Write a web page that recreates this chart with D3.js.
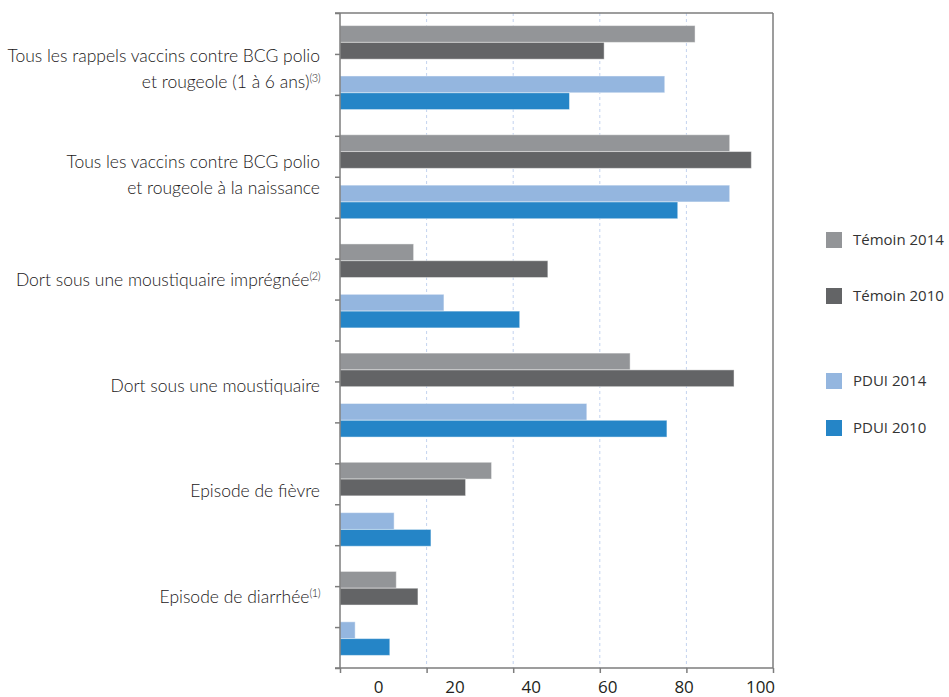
<!DOCTYPE html>
<html>
<head>
<meta charset="utf-8">
<script src="https://cdn.jsdelivr.net/npm/d3@7"></script>
<style>
  body { margin: 0; background: #fff; }
  svg { display: block; }
  .cat { font-family: Lato, "Open Sans", sans-serif; font-weight: 300; font-size: 17.5px; fill: #1a1718; }
  .num { font-family: "Open Sans", "Noto Sans", sans-serif; font-size: 17px; fill: #231f20; }
  .leg { font-family: "Open Sans", "Noto Sans", sans-serif; font-size: 15px; fill: #333; }
</style>
</head>
<body>
<div id="chart"></div>
<script>
var categoryLines = [
  ["Tous les rappels vaccins contre BCG polio", "et rougeole (1 à 6 ans)"],
  ["Tous les vaccins contre BCG polio", "et rougeole à la naissance"],
  ["Dort sous une moustiquaire imprégnée"],
  ["Dort sous une moustiquaire"],
  ["Episode de fièvre"],
  ["Episode de diarrhée"]
];
var categoryNotes = ["(3)", "", "(2)", "", "", "(1)"];

var seriesNames = ["Témoin 2014", "Témoin 2010", "PDUI 2014", "PDUI 2010"];
var temoin2014 = [82, 90, 17, 67, 35, 13];
var temoin2010 = [61, 95, 48, 91, 29, 18];
var pdui2014 = [75, 90, 24, 57, 12.5, 3.5];
var pdui2010 = [53, 78, 41.5, 75.5, 21, 11.5];
var xTicks = [0, 20, 40, 60, 80, 100];

var seriesValues = [temoin2014, temoin2010, pdui2014, pdui2010];
var colors = d3.scaleOrdinal()
  .domain(seriesNames)
  .range(["#939598", "#636466", "#94b6df", "#2585c7"]);

var _width = 949, _height = 697,
  _left = 340, _right = 773, _top = 13, _bottom = 668;

var svg = d3.select("#chart").append("svg")
  .attr("width", _width)
  .attr("height", _height);

var x = d3.scaleLinear().domain([0, 100]).range([_left, _right]);
// the printed tick numbers sit on their own, slightly shifted scale
var xLabel = d3.scaleLinear().domain([0, 100]).range([378, 760]);

var ids = d3.range(categoryLines.length);
var y = d3.scaleBand().domain(ids).range([_top, _bottom]);
var inner = d3.scaleBand()
  .domain([seriesNames[0], seriesNames[1], "gap", seriesNames[2], seriesNames[3]])
  .range([0, y.bandwidth()])
  .paddingOuter(0.75);
var yLabel = d3.scalePoint().domain(ids).range([75, 603]);
var yTick = d3.scaleLinear().domain([0, 16]).range([_top, _bottom]);

// grid lines
svg.append("g").selectAll("line")
  .data(xTicks.slice(1, -1))
  .enter().append("line")
    .attr("x1", function (d) { return x(d); })
    .attr("x2", function (d) { return x(d); })
    .attr("y1", _top)
    .attr("y2", _bottom)
    .attr("stroke", "#c3d3ef")
    .attr("stroke-width", 1)
    .attr("stroke-dasharray", "3,3");

// frame top / right
svg.append("line")
  .attr("x1", _left - 5).attr("x2", _right)
  .attr("y1", _top).attr("y2", _top)
  .attr("stroke", "#7d7d7d").attr("stroke-width", 1.5);
svg.append("line")
  .attr("x1", _right).attr("x2", _right)
  .attr("y1", _top).attr("y2", _bottom)
  .attr("stroke", "#7d7d7d").attr("stroke-width", 1.5);

// bars
seriesNames.forEach(function (name, s) {
  svg.append("g").selectAll("rect")
    .data(seriesValues[s])
    .enter().append("rect")
      .attr("x", x(0))
      .attr("y", function (d, i) { return y(i) + inner(name); })
      .attr("width", function (d) { return x(d) - x(0); })
      .attr("height", inner.bandwidth())
      .attr("fill", colors(name))
      .attr("stroke", "#ffffff")
      .attr("stroke-opacity", 0.45)
      .attr("stroke-width", 1);
});

// bottom axis: tick marks on x, numbers on xLabel
var xAxis = svg.append("g")
  .attr("transform", "translate(0," + _bottom + ")")
  .call(d3.axisBottom(x).tickValues(xTicks).tickSize(5).tickFormat(""));
xAxis.select(".domain").attr("d", "M" + (_left - 5) + ",0H" + _right);
xAxis.selectAll("line, path").attr("stroke", "#7d7d7d").attr("stroke-width", 1.5);

svg.append("g")
  .attr("transform", "translate(0," + _bottom + ")")
  .call(d3.axisBottom(xLabel).tickValues(xTicks).tickSize(0).tickPadding(13))
  .call(function (g) { g.select(".domain").remove(); })
  .selectAll("text")
    .attr("class", "num")
    .attr("font-size", null)
    .attr("font-family", null)
    .attr("fill", null);

// left axis
var yAxis = svg.append("g")
  .attr("transform", "translate(" + _left + ",0)")
  .call(d3.axisLeft(yTick).ticks(16).tickSize(5).tickFormat(""));
yAxis.select(".domain").attr("d", "M0," + _top + "V" + _bottom);
yAxis.selectAll("line, path").attr("stroke", "#7d7d7d").attr("stroke-width", 1.5);

// category labels
var labels = svg.append("g").selectAll("text")
  .data(ids)
  .enter().append("text")
    .attr("class", "cat")
    .attr("text-anchor", "end")
    .attr("x", 320)
    .attr("y", function (i) {
      return yLabel(i) - (categoryLines[i].length - 1) * 13;
    })
    .attr("dy", "0.35em");

labels.each(function (i) {
  var t = d3.select(this);
  categoryLines[i].forEach(function (line, k) {
    t.append("tspan")
      .attr("x", 320)
      .attr("dy", k === 0 ? 0 : 26)
      .text(line);
    if (k === categoryLines[i].length - 1 && categoryNotes[i]) {
      t.append("tspan")
        .attr("font-size", "11px")
        .attr("letter-spacing", "-0.5px")
        .attr("dy", -6)
        .text(categoryNotes[i]);
    }
  });
});

// legend
var legendY = [240, 296, 381, 428];
var legend = svg.append("g").selectAll("g")
  .data(seriesNames)
  .enter().append("g")
    .attr("transform", function (d, i) { return "translate(826," + legendY[i] + ")"; });
legend.append("rect")
  .attr("x", 0).attr("y", -8)
  .attr("width", 16).attr("height", 16)
  .attr("fill", function (d) { return colors(d); });
legend.append("text")
  .attr("class", "leg")
  .attr("x", 27)
  .attr("dy", "0.35em")
  .text(function (d) { return d; });
</script>
</body>
</html>
